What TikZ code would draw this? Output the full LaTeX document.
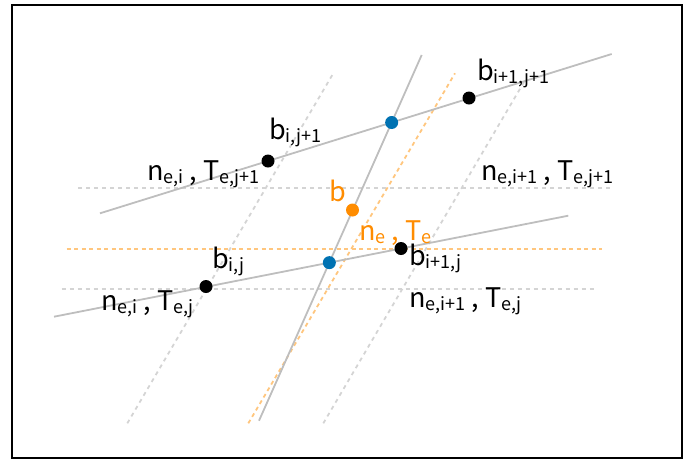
\documentclass[tikz,border=0pt]{standalone}
\usepackage{fontspec}
\setmainfont{Noto Sans CJK JP}
\definecolor{solidgray}{HTML}{BEBEBE}
\definecolor{dashgray}{HTML}{D4D4D4}
\definecolor{dashorange}{HTML}{FFC67E}
\definecolor{dotorange}{HTML}{FF8C00}
\definecolor{dotblue}{HTML}{0072B2}
\newcommand\lblsub[1]{\raisebox{-3pt}{\fontsize{18}{18}\selectfont #1}}
\tikzset{
  solidline/.style={draw=solidgray, line width=1.8pt},
  gdash/.style={draw=dashgray, line width=1.8pt, dash pattern=on 4pt off 4pt},
  odash/.style={draw=dashorange, line width=1.8pt, dash pattern=on 4pt off 3.5pt},
  dotnode/.style={circle, inner sep=0pt, minimum size=13pt},
  blackdot/.style={dotnode, fill=black},
  bluedot/.style={dotnode, fill=dotblue},
  orangedot/.style={dotnode, fill=dotorange},
  lbl/.style={inner sep=0pt, anchor=base west, font=\fontsize{27}{32}\selectfont},
}
\begin{document}
\begin{tikzpicture}[x=1pt, y=-1pt]
\useasboundingbox (0,0) rectangle (694,459);
\draw[black, line width=1.6pt] (12,5) rectangle (682,458);
% endpoints
\coordinate (hg1a) at (78.3,188.3);  \coordinate (hg1b) at (613,188.3);
\coordinate (hoa) at (66.7,249);     \coordinate (hob) at (601.7,249);
\coordinate (hg2a) at (61.7,289);    \coordinate (hg2b) at (596.7,289);
\coordinate (g1a) at (127.3,423.3);  \coordinate (g1b) at (333.3,73.3);
\coordinate (oa) at (248.3,423.3);   \coordinate (ob) at (455,73.3);
\coordinate (g2a) at (323.3,423.3);  \coordinate (g2b) at (524,82);
\coordinate (u1) at (100,213.3);     \coordinate (u2) at (611.7,54);
\coordinate (l1) at (54,316.7);      \coordinate (l2) at (568.3,215.7);
\coordinate (s1) at (259,420.7);     \coordinate (s2) at (421.7,55);
% dashed lines
\draw[gdash] (hg1a) -- (hg1b);
\draw[gdash] (hg2a) -- (hg2b);
\draw[gdash] (g1a) -- (g1b);
\draw[gdash] (g2a) -- (g2b);
\draw[odash] (hoa) -- (hob);
\draw[odash] (oa) -- (ob);
% solid lines
\draw[solidline] (u1) -- (u2);
\draw[solidline] (l1) -- (l2);
\draw[solidline] (s1) -- (s2);
% dots
\node[blackdot] (bij1) at (268,161) {};
\node[blackdot] (bi1j1) at (469,98) {};
\node[blackdot] (bij) at (206,286.5) {};
\node[blackdot] (bi1j) at (401,248.5) {};
\node[bluedot] (pu) at (intersection of s1--s2 and u1--u2) {};
\node[bluedot] (pl) at (intersection of s1--s2 and l1--l2) {};
\node[orangedot] (pb) at (352.5,210) {};
% labels
\node[lbl] (tbi1j1) at (477,80.7) {b\lblsub{i+1,j+1}};
\node[lbl] (tbij1) at (269,139) {b\lblsub{i,j+1}};
\node[lbl] (tnij1) at (147,180) {n\lblsub{e,i} , T\lblsub{e,j+1}};
\node[lbl, text=dotorange] (tb) at (329,201.7) {b};
\node[lbl, text=dotorange] (tne) at (359,240) {n\lblsub{e} , T\lblsub{e}};
\node[lbl] (tbi1j) at (409,265) {b\lblsub{i+1,j}};
\node[lbl] (tbij) at (212,268) {b\lblsub{i,j}};
\node[lbl] (tnij) at (101,310) {n\lblsub{e,i} , T\lblsub{e,j}};
\node[lbl] (tni1j1) at (481,180) {n\lblsub{e,i+1} , T\lblsub{e,j+1}};
\node[lbl] (tni1j) at (409,307) {n\lblsub{e,i+1} , T\lblsub{e,j}};
\end{tikzpicture}
\end{document}
